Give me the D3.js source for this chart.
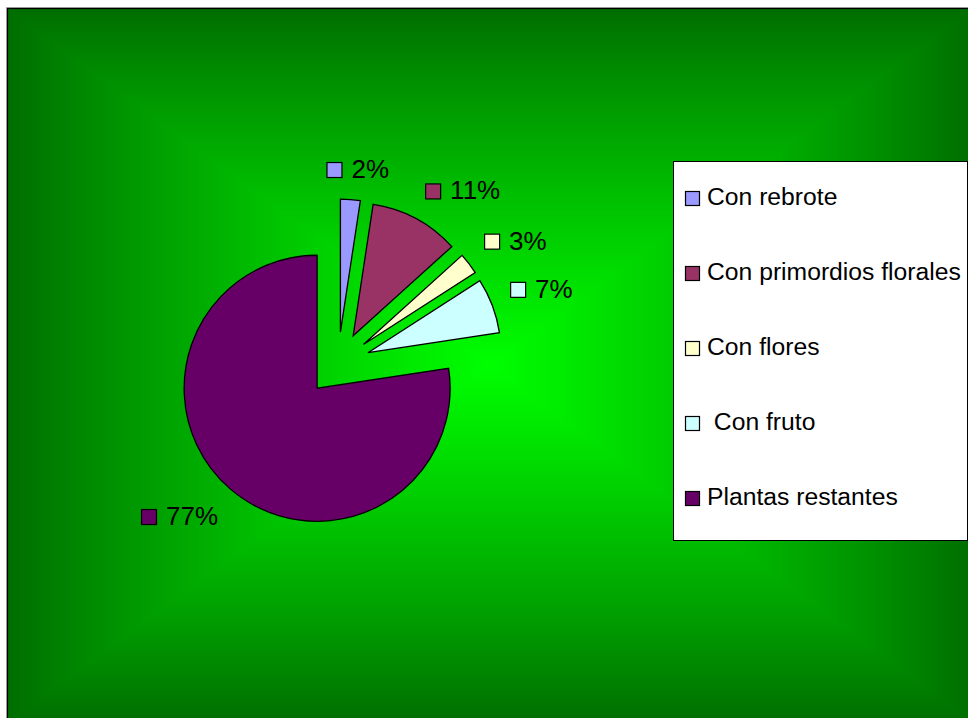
<!DOCTYPE html>
<html>
<head>
<meta charset="utf-8">
<script src="https://cdn.jsdelivr.net/npm/d3@7"></script>
<style>
  html, body { margin: 0; padding: 0; background: #ffffff; }
  svg { display: block; }
  text { font-family: 'Liberation Sans', Arial, Helvetica, sans-serif; fill: #000; }
</style>
</head>
<body>
<svg id="chart" width="968" height="718"></svg>
<script>
// Plant stages (share of the sampled plants, in percent)
const categories = ["Con rebrote", "Con primordios florales", "Con flores", " Con fruto", "Plantas restantes"];
const shares = [2.4, 10.9, 2.6, 6.7, 77.4];
const sliceColors = ["#9999FF", "#993366", "#FFFFCC", "#CCFFFF", "#660066"];

const svg = d3.select("#chart");
const W = 968, H = 718;

// ---- chart area with a rectangular (centre-out) green gradient ----
const area = { x0: 8, y0: 9, x1: 972, y1: 722 };
const mid = { x: (area.x0 + area.x1) / 2, y: (area.y0 + area.y1) / 2 };
const greenAt = d3.interpolateRgb("#006d00", "#00ff00");
const steps = 360;

// concentric rectangles, darkest at the border, brightest in the middle
svg.append("g")
  .attr("shape-rendering", "crispEdges")
  .selectAll("rect")
  .data(d3.range(steps))
  .join("rect")
  .attr("x", i => area.x0 + (mid.x - area.x0) * i / steps)
  .attr("y", i => area.y0 + (mid.y - area.y0) * i / steps)
  .attr("width", i => (area.x1 - area.x0) * (1 - i / steps))
  .attr("height", i => (area.y1 - area.y0) * (1 - i / steps))
  .attr("fill", i => greenAt(Math.pow(i / steps, 0.9)));

svg.append("rect")
  .attr("x", area.x0 - 0.5).attr("y", area.y0 - 0.5)
  .attr("width", area.x1 - area.x0).attr("height", area.y1 - area.y0)
  .attr("fill", "none")
  .attr("stroke", "#000")
  .attr("stroke-width", 1.2);
svg.append("line")
  .attr("x1", area.x0 - 1.5).attr("y1", area.y0 - 1.5)
  .attr("x2", W).attr("y2", area.y0 - 1.5)
  .attr("stroke", "#999").attr("stroke-width", 1);
svg.append("line")
  .attr("x1", area.x0 - 1.5).attr("y1", area.y0 - 1.5)
  .attr("x2", area.x0 - 1.5).attr("y2", H)
  .attr("stroke", "#999").attr("stroke-width", 1);

// ---- exploded pie ----
const pieC = { x: 338, y: 364 };
const radius = 133;
const explode = 32;

const pie = d3.pie().sort(null).startAngle(0).endAngle(2 * Math.PI).value(d => d);
const arcs = pie(shares);
const arc = d3.arc().innerRadius(0).outerRadius(radius);
const midAngle = a => (a.startAngle + a.endAngle) / 2;
const dir = a => [Math.sin(midAngle(a)), -Math.cos(midAngle(a))];

const pieG = svg.append("g").attr("transform", `translate(${pieC.x},${pieC.y})`);
pieG.selectAll("path")
  .data(arcs)
  .join("path")
  .attr("transform", a => {
    const [dx, dy] = dir(a);
    return `translate(${dx * explode},${dy * explode})`;
  })
  .attr("d", arc)
  .attr("fill", (a, i) => sliceColors[i])
  .attr("stroke", "#000")
  .attr("stroke-width", 1.3)
  .attr("stroke-linejoin", "miter");

// ---- data labels with legend keys, placed outside each slice ----
const labelR = 184;
const labelFont = 26;
const keySize = 15;
const keyGap = 10;
const labelH = 19;
const labelPadY = 24;
const clamp = v => Math.max(-1, Math.min(1, v));

const labels = svg.append("g").selectAll("g")
  .data(arcs)
  .join("g");

labels.append("rect")
  .attr("x", 0.5).attr("y", -keySize - 0.5)
  .attr("width", keySize).attr("height", keySize)
  .attr("fill", (a, i) => sliceColors[i])
  .attr("stroke", "#000").attr("stroke-width", 1.2);

labels.append("text")
  .attr("x", keySize + keyGap)
  .attr("y", 0)
  .attr("font-size", labelFont)
  .text(a => Math.round(a.data) + "%");

labels.attr("transform", function (a) {
  const tw = this.querySelector("text").getComputedTextLength();
  const w = keySize + keyGap + tw;
  const [dx, dy] = dir(a);
  const ax = pieC.x + dx * labelR, ay = pieC.y + dy * labelR;
  const cx = ax + (w / 2) * clamp(2.5 * dx);
  const cy = ay + (labelPadY / 2) * clamp(2.5 * dy);
  return `translate(${cx - w / 2},${cy + labelH / 2})`;
});

// ---- legend ----
const legendBox = { x: 673, y: 161, w: 294, h: 379 };
const legend = svg.append("g");
legend.append("rect")
  .attr("x", legendBox.x + 0.5).attr("y", legendBox.y + 0.5)
  .attr("width", legendBox.w).attr("height", legendBox.h)
  .attr("fill", "#fff")
  .attr("stroke", "#000").attr("stroke-width", 1);

const rowY = d3.scalePoint()
  .domain(d3.range(categories.length))
  .range([205, 505]);

const rows = legend.selectAll("g.row")
  .data(categories)
  .join("g")
  .attr("class", "row")
  .attr("transform", (d, i) => `translate(${legendBox.x + 12},${rowY(i)})`);

rows.append("rect")
  .attr("x", 0.5).attr("y", -13.5)
  .attr("width", 14).attr("height", 14)
  .attr("fill", (d, i) => sliceColors[i])
  .attr("stroke", "#000").attr("stroke-width", 1.2);

rows.append("text")
  .attr("x", 22)
  .attr("y", 0)
  .attr("font-size", 24.7)
  .attr("xml:space", "preserve")
  .style("white-space", "pre")
  .text(d => d);
</script>
</body>
</html>
